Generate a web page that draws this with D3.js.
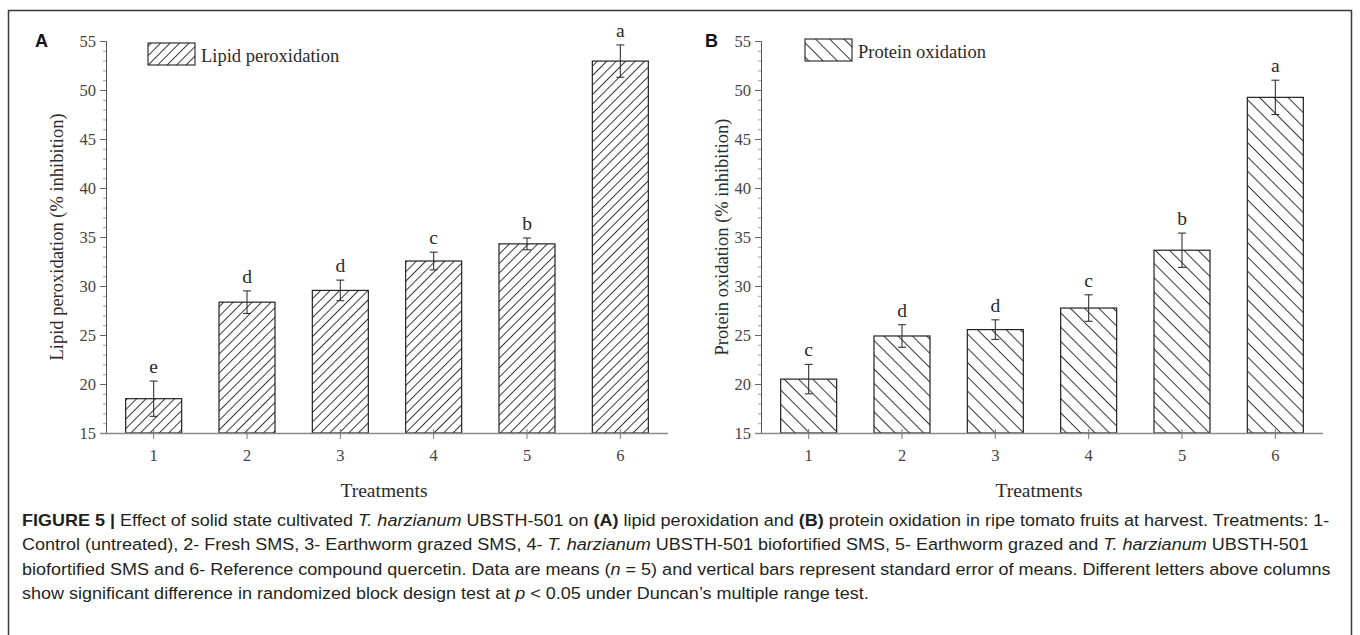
<!DOCTYPE html>
<html>
<head>
<meta charset="utf-8">
<script src="https://cdn.jsdelivr.net/npm/d3@7"></script>
<style>
  html, body { margin: 0; padding: 0; background: #fff; }
  svg { display: block; }
</style>
</head>
<body>
<svg id="fig" width="1360" height="635"></svg>
<script>
// Treatments on the x axis
const treatments = ["1", "2", "3", "4", "5", "6"];
// Y axis tick labels
const yTicks = [15, 20, 25, 30, 35, 40, 45, 50, 55];

// Panel A: lipid peroxidation (% inhibition), means and standard errors
const lipidMeans = [18.5, 28.35, 29.55, 32.55, 34.3, 52.95];
const lipidErrors = [1.8, 1.15, 1.05, 0.9, 0.6, 1.65];
const lipidLetters = ["e", "d", "d", "c", "b", "a"];

// Panel B: protein oxidation (% inhibition), means and standard errors
const proteinMeans = [20.5, 24.9, 25.55, 27.75, 33.65, 49.25];
const proteinErrors = [1.5, 1.15, 1.0, 1.35, 1.75, 1.75];
const proteinLetters = ["c", "d", "d", "c", "b", "a"];

const svg = d3.select("#fig");
const serif = "'Liberation Serif', 'Times New Roman', serif";
const sans = "'Liberation Sans', Arial, sans-serif";
const ink = "#2a2a2a";
const axisGrey = "#8a8a8a";

// Hatch patterns
const defs = svg.append("defs");
function hatch(id, spacing, angle) {
  const p = defs.append("pattern")
    .attr("id", id)
    .attr("patternUnits", "userSpaceOnUse")
    .attr("width", spacing)
    .attr("height", spacing)
    .attr("patternTransform", `rotate(${angle})`);
  p.append("rect").attr("width", spacing).attr("height", spacing).attr("fill", "#fff");
  p.append("line")
    .attr("x1", spacing / 2).attr("x2", spacing / 2)
    .attr("y1", 0).attr("y2", spacing)
    .attr("stroke", "#333").attr("stroke-width", 1);
}
hatch("hatchFwd", 6.7, 45);
hatch("hatchBack", 10.1, -45);

// White background and outer frame
svg.append("rect").attr("width", 1360).attr("height", 635).attr("fill", "#fff");
svg.append("rect")
  .attr("x", 8.5).attr("y", 10.5).attr("width", 1343).attr("height", 660)
  .attr("fill", "none").attr("stroke", "#3a3a3a").attr("stroke-width", 1.5);

function panel(opts) {
  const g = svg.append("g").attr("transform", `translate(${opts.dx},0)`);

  const y = d3.scaleLinear().domain([15, 55]).range([433, 41]);
  const x = d3.scaleBand().domain(treatments).range([107, 667])
    .paddingInner(0.4).paddingOuter(0.2);

  // Y axis: major ticks every 5, minor ticks every 1
  const yAxis = d3.axisLeft(y).tickValues(yTicks).tickSize(6).tickPadding(4)
    .tickFormat(d3.format("d"));
  const ya = g.append("g").attr("transform", "translate(106,0)").call(yAxis);
  ya.select(".domain").attr("stroke", "#555").attr("stroke-width", 1);
  ya.selectAll(".tick line").attr("stroke", "#666");
  ya.selectAll(".tick text")
    .attr("font-family", serif).attr("font-size", 16.5).attr("fill", "#444");
  const minor = d3.range(15, 56).filter(v => v % 5 !== 0);
  ya.selectAll(".minor").data(minor).join("line")
    .attr("class", "minor")
    .attr("x1", 0).attr("x2", -3)
    .attr("y1", d => y(d) + 0.5).attr("y2", d => y(d) + 0.5)
    .attr("stroke", "#888").attr("stroke-width", 0.8);

  // Bars
  g.selectAll(".bar").data(opts.means).join("rect")
    .attr("class", "bar")
    .attr("x", (d, i) => x(treatments[i]))
    .attr("y", d => y(d))
    .attr("width", x.bandwidth())
    .attr("height", d => y(15) - y(d))
    .attr("fill", `url(#${opts.pattern})`)
    .attr("stroke", "#222").attr("stroke-width", 1.2);

  // X axis
  const xAxis = d3.axisBottom(x).tickSizeInner(6).tickSizeOuter(0).tickPadding(10);
  const xa = g.append("g").attr("transform", "translate(0,433)").call(xAxis);
  xa.select(".domain").attr("d", "M100,0.5H668")
    .attr("stroke", axisGrey).attr("stroke-width", 1.3);
  xa.selectAll(".tick line").attr("y1", -4).attr("stroke", "#777");
  xa.selectAll(".tick text")
    .attr("font-family", serif).attr("font-size", 16.5).attr("fill", "#444");

  // Error bars
  const cx = i => x(treatments[i]) + x.bandwidth() / 2;
  const eb = g.selectAll(".err").data(opts.means).join("g").attr("class", "err")
    .attr("stroke", "#333").attr("stroke-width", 1.1);
  eb.append("line")
    .attr("x1", (d, i) => cx(i)).attr("x2", (d, i) => cx(i))
    .attr("y1", (d, i) => y(d + opts.errors[i]))
    .attr("y2", (d, i) => y(d - opts.errors[i]));
  eb.append("line")
    .attr("x1", (d, i) => cx(i) - 4).attr("x2", (d, i) => cx(i) + 4)
    .attr("y1", (d, i) => y(d + opts.errors[i]))
    .attr("y2", (d, i) => y(d + opts.errors[i]));
  eb.append("line")
    .attr("x1", (d, i) => cx(i) - 4).attr("x2", (d, i) => cx(i) + 4)
    .attr("y1", (d, i) => y(d - opts.errors[i]))
    .attr("y2", (d, i) => y(d - opts.errors[i]));

  // Significance letters
  g.selectAll(".sig").data(opts.letters).join("text")
    .attr("class", "sig")
    .attr("x", (d, i) => cx(i))
    .attr("y", (d, i) => y(opts.means[i] + opts.errors[i]) - 8)
    .attr("text-anchor", "middle")
    .attr("font-family", serif).attr("font-size", 19.5).attr("fill", ink)
    .text(d => d);

  // Legend
  g.append("rect")
    .attr("x", opts.legend.x).attr("y", opts.legend.y)
    .attr("width", 47).attr("height", 22)
    .attr("fill", `url(#${opts.pattern})`)
    .attr("stroke", "#222").attr("stroke-width", 1.1);
  g.append("text")
    .attr("x", opts.legend.x + 53).attr("y", opts.legend.y + 19)
    .attr("font-family", serif).attr("font-size", 18.5).attr("fill", ink)
    .text(opts.name);

  // Panel letter
  g.append("text")
    .attr("x", opts.tagX).attr("y", 47)
    .attr("font-family", sans).attr("font-weight", "bold").attr("font-size", 18)
    .attr("fill", "#111")
    .text(opts.tag);

  // Axis titles
  g.append("text")
    .attr("transform", `translate(${opts.yTitleX},237) rotate(-90)`)
    .attr("text-anchor", "middle")
    .attr("font-family", serif).attr("font-size", 18.5).attr("fill", ink)
    .text(opts.yTitle);
  g.append("text")
    .attr("x", 384).attr("y", 497)
    .attr("text-anchor", "middle")
    .attr("font-family", serif).attr("font-size", 19.5).attr("fill", ink)
    .text("Treatments");
}

panel({
  dx: 0, means: lipidMeans, errors: lipidErrors, letters: lipidLetters,
  pattern: "hatchFwd", name: "Lipid peroxidation", legend: { x: 148, y: 43 },
  tag: "A", tagX: 35, yTitle: "Lipid peroxidation (% inhibition)", yTitleX: 63
});
panel({
  dx: 655, means: proteinMeans, errors: proteinErrors, letters: proteinLetters,
  pattern: "hatchBack", name: "Protein oxidation", legend: { x: 150, y: 39 },
  tag: "B", tagX: 50, yTitle: "Protein oxidation (% inhibition)", yTitleX: 73
});

// Figure caption
const captionLines = [
  [["FIGURE 5 | ", "b"], ["Effect of solid state cultivated "], ["T. harzianum", "i"],
   [" UBSTH-501 on "], ["(A)", "b"], [" lipid peroxidation and "], ["(B)", "b"],
   [" protein oxidation in ripe tomato fruits at harvest. Treatments: 1-"]],
  [["Control (untreated), 2- Fresh SMS, 3- Earthworm grazed SMS, 4- "], ["T. harzianum", "i"],
   [" UBSTH-501 biofortified SMS, 5- Earthworm grazed and "], ["T. harzianum", "i"], [" UBSTH-501"]],
  [["biofortified SMS and 6- Reference compound quercetin. Data are means ("], ["n", "i"],
   [" = 5) and vertical bars represent standard error of means. Different letters above columns"]],
  [["show significant difference in randomized block design test at "], ["p", "i"],
   [" < 0.05 under Duncan\u2019s multiple range test."]]
];
const cap = svg.append("g")
  .attr("font-family", sans).attr("font-size", 16.5).attr("fill", "#231f20");
const capText = cap.selectAll("text").data(captionLines).join("text")
  .attr("x", 0).attr("y", (d, i) => 526 + i * 24.5)
  .attr("xml:space", "preserve");
capText.selectAll("tspan").data(d => d).join("tspan")
  .attr("font-weight", d => d[1] === "b" ? "bold" : null)
  .attr("font-style", d => d[1] === "i" ? "italic" : null)
  .text(d => d[0]);
// Narrow the caption horizontally so the first line ends near the right frame
const w0 = capText.node().getComputedTextLength();
cap.attr("transform", `translate(22,0) scale(${1308 / w0},1)`);
</script>
</body>
</html>
